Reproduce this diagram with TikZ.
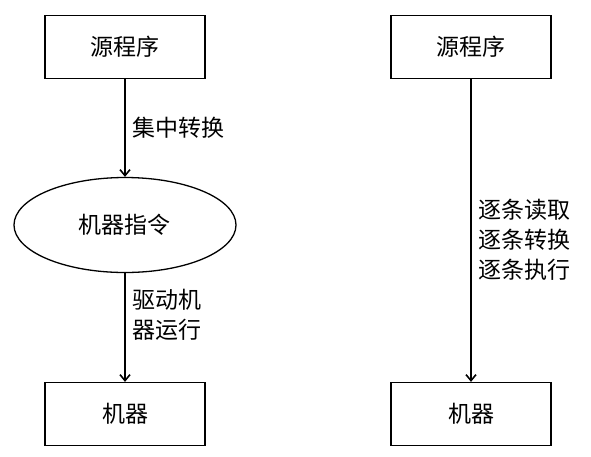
\documentclass[tikz,border=0pt]{standalone}
\usepackage{fontspec}
\setmainfont{Noto Sans CJK SC}
\usepackage{tikz}
\usetikzlibrary{shapes,arrows.meta}
\tikzset{
  block/.style    = {draw, line width=1.3pt, rectangle, minimum height = 63pt, minimum width = 160pt},
  instr/.style    = {draw, line width=1.3pt, ellipse, minimum height = 95pt, minimum width = 222pt},
  lbl/.style      = {align=left, inner sep=7pt},
  flow/.style     = {->, line width=1.6pt}
}

\begin{document}
\begin{tikzpicture}[auto, node distance=178pt, >={Straight Barb[length=6pt,width=10pt]},
  font=\fontsize{23}{30}\selectfont]

\useasboundingbox (-125pt,47pt) rectangle (466pt,-409pt);

% Left column
\draw node [block] (src1) {源程序};
\draw node [instr, below of=src1] (mc) {机器指令};
\draw node [block, below of=mc, node distance=189pt] (m1) {机器};

% Right column
\draw node [block, right of=src1, node distance=346pt] (src2) {源程序};
\draw node [block, right of=m1, node distance=346pt] (m2) {机器};

% Connections
\draw[flow](src1) -- node [lbl] {集中转换}(mc);
\draw[flow](mc) -- node [lbl, pos=0.38] {驱动机\\器运行}(m1);
\draw[flow](src2) -- node [lbl, pos=0.53] {逐条读取\\逐条转换\\逐条执行}(m2);

\end{tikzpicture}
\end{document}
